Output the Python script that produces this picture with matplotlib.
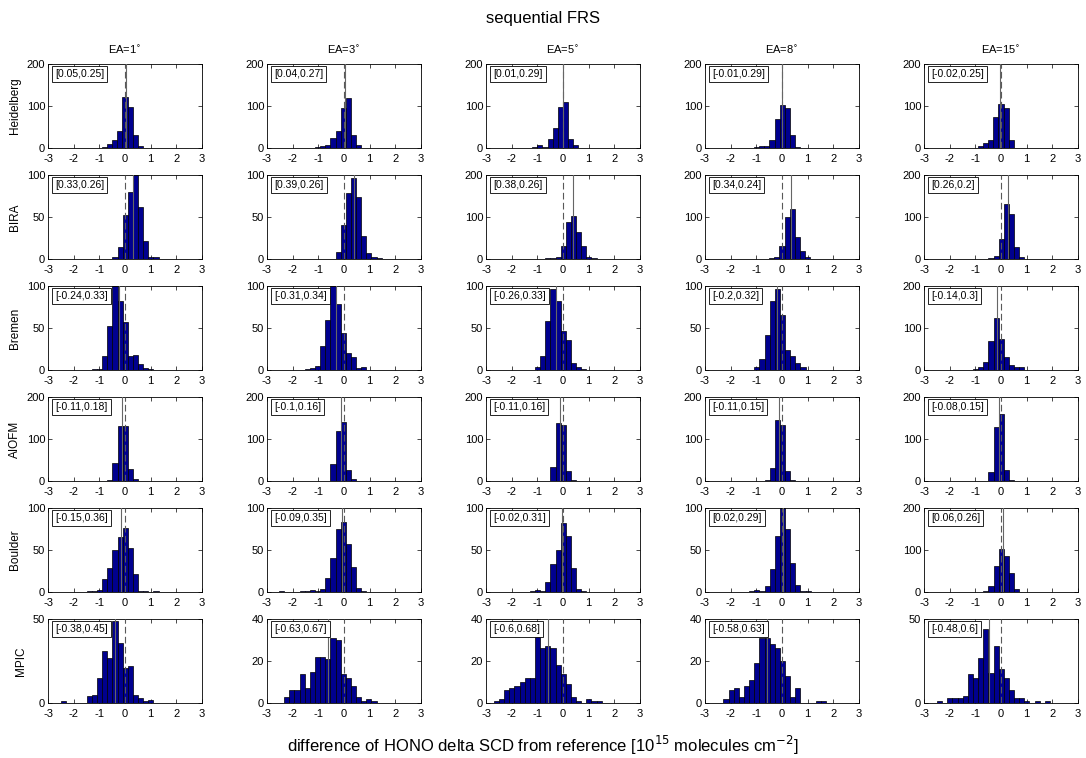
import numpy as np
import matplotlib.pyplot as plt

plt.rcParams['font.family'] = ['Liberation Sans', 'DejaVu Sans']
plt.rcParams['axes.unicode_minus'] = False

groups = ['Heidelberg', 'BIRA', 'Bremen', 'AIOFM', 'Boulder', 'MPIC']
angles = [1, 3, 5, 8, 15]
bin_w = 0.2

# [mean, std] printed in each panel
stats = [
    [(0.05, 0.25), (0.04, 0.27), (0.01, 0.29), (-0.01, 0.29), (-0.02, 0.25)],
    [(0.33, 0.26), (0.39, 0.26), (0.38, 0.26), (0.34, 0.24), (0.26, 0.2)],
    [(-0.24, 0.33), (-0.31, 0.34), (-0.26, 0.33), (-0.2, 0.32), (-0.14, 0.3)],
    [(-0.11, 0.18), (-0.1, 0.16), (-0.11, 0.16), (-0.11, 0.15), (-0.08, 0.15)],
    [(-0.15, 0.36), (-0.09, 0.35), (-0.02, 0.31), (0.02, 0.29), (0.06, 0.26)],
    [(-0.38, 0.45), (-0.63, 0.67), (-0.6, 0.68), (-0.58, 0.63), (-0.48, 0.6)],
]

ymax = [
    [200, 200, 200, 200, 200],
    [100, 100, 200, 200, 200],
    [100, 100, 100, 100, 200],
    [200, 200, 200, 200, 200],
    [100, 100, 100, 100, 200],
    [50, 40, 40, 40, 50],
]

# left edge of the first bin, then counts per bin
heidelberg_lo = [-0.9, -1.13, -1.2, -1.49, -0.9]
heidelberg = [
    [2, 10, 20, 40, 122, 97, 30, 5, 1],
    [2, 4, 8, 23, 40, 95, 118, 32, 6, 0, 1],
    [3, 7, 3, 22, 47, 98, 110, 22, 8],
    [1, 1, 3, 5, 5, 20, 68, 102, 95, 30, 2],
    [5, 12, 20, 73, 105, 95, 20, 1],
]
bira_lo = [-0.49, -0.33, -0.69, -0.5, -0.69]
bira = [
    [2, 14, 52, 80, 100, 62, 21, 2, 2],
    [8, 40, 78, 96, 74, 27, 7, 2, 1],
    [2, 2, 5, 30, 88, 103, 65, 30, 5, 2],
    [2, 5, 30, 100, 120, 52, 20, 5, 1],
    [1, 2, 8, 47, 130, 108, 28, 5, 1],
]
bremen_lo = [-1.29, -1.53, -1.09, -1.08, -1.09]
bremen = [
    [1, 1, 17, 52, 100, 82, 57, 17, 18, 7, 2, 1],
    [1, 2, 5, 28, 60, 100, 78, 44, 20, 15, 2, 3],
    [3, 17, 58, 97, 82, 47, 36, 8, 4, 1],
    [3, 13, 42, 82, 97, 66, 24, 17, 8, 3],
    [2, 8, 18, 68, 123, 75, 30, 12, 8, 6, 1],
]
aiofm_lo = [-0.89, -0.73, -0.69, -0.68, -0.49]
aiofm = [
    [1, 2, 42, 130, 130, 28, 4],
    [1, 40, 120, 140, 27, 5, 1],
    [1, 33, 138, 133, 25, 3],
    [2, 30, 145, 133, 23, 2],
    [22, 128, 160, 27, 3, 1],
]
boulder_lo = [-1.49, -2.53, -1.29, -1.28, -1.49]
boulder = [
    [1, 1, 2, 15, 28, 50, 65, 76, 52, 22, 1, 1, 0, 1],
    [1, 0, 0, 0, 1, 1, 2, 1, 3, 17, 40, 75, 83, 57, 30, 5, 1],
    [1, 2, 1, 12, 33, 50, 82, 67, 28, 3, 1],
    [1, 2, 1, 7, 27, 67, 100, 75, 35, 8, 1, 1],
    [1, 0, 0, 1, 3, 15, 63, 103, 85, 45, 8, 1, 1],
]
mpic_lo = [-2.49, -2.33, -2.69, -2.28, -2.49]
mpic = [
    [1, 0, 0, 0, 0, 4, 5, 15, 31, 27, 49, 36, 21, 22, 5, 3, 1, 2],
    [3, 6, 6, 14, 7, 15, 22, 22, 21, 31, 30, 14, 12, 8, 3, 1, 2, 1],
    [1, 2, 6, 7, 8, 10, 12, 12, 34, 26, 27, 26, 18, 14, 9, 3, 1, 0, 2, 1, 1],
    [2, 6, 7, 3, 8, 11, 19, 31, 31, 28, 26, 20, 13, 3, 7, 0, 0, 0, 1, 1],
    [1, 0, 3, 3, 3, 4, 17, 15, 27, 44, 18, 34, 20, 15, 8, 3, 3, 1, 0, 1, 0, 1],
]

all_lo = [heidelberg_lo, bira_lo, bremen_lo, aiofm_lo, boulder_lo, mpic_lo]
all_counts = [heidelberg, bira, bremen, aiofm, boulder, mpic]
yt = {200: [0, 100, 200], 100: [0, 50, 100], 50: [0, 50], 40: [0, 20, 40]}

fig = plt.figure(figsize=(10.86, 7.58), dpi=100)

W, H = 1086.0, 758.0
for i in range(6):
    for j in range(5):
        left = (48 + 219 * j) / W
        top = (64 + 111 * i) / H
        ax = fig.add_axes([left, 1 - top - 84 / H, 154 / W, 84 / H])
        c = np.array(all_counts[i][j])
        edges = all_lo[i][j] + bin_w * np.arange(len(c))
        ax.bar(edges, c, width=bin_w, align='edge', color=(0, 0, 0.5625),
               edgecolor='black', linewidth=0.5, zorder=2)
        m, s = stats[i][j]
        ax.axvline(0, color='0.35', ls=(0, (6, 3)), lw=0.8, zorder=3)
        ax.axvline(m, color='0.4', lw=0.8, zorder=3)
        ax.set_xlim(-3, 3)
        ax.set_ylim(0, ymax[i][j])
        ax.set_xticks(range(-3, 4))
        ax.set_yticks(yt[ymax[i][j]])
        ax.tick_params(direction='in', top=True, right=True, length=3,
                       width=0.5, labelsize=8)
        ax.tick_params(axis='x', pad=4)
        ax.tick_params(axis='y', pad=2)
        for sp in ax.spines.values():
            sp.set_linewidth(0.6)
        ax.text(0.046, 0.94, '[%g,%g]' % (m, s), transform=ax.transAxes,
                ha='left', va='top', fontsize=7.5, zorder=4,
                bbox=dict(boxstyle='square,pad=0.3', fc='white', ec='black', lw=0.6))
        if i == 0:
            ax.set_title('EA=%d$^{\\circ}$' % angles[j], fontsize=8, pad=7)
        if j == 0:
            ax.set_ylabel(groups[i], fontsize=8.5, labelpad=4)

fig.text(0.5, 1 - 18 / H, 'sequential FRS', ha='center', va='center', fontsize=12)
fig.text(0.5, 1 - 745 / H,
         'difference of HONO delta SCD from reference [10$^{15}$ molecules cm$^{-2}$]',
         ha='center', va='center', fontsize=12)

fig.savefig('out.png', dpi=100)
